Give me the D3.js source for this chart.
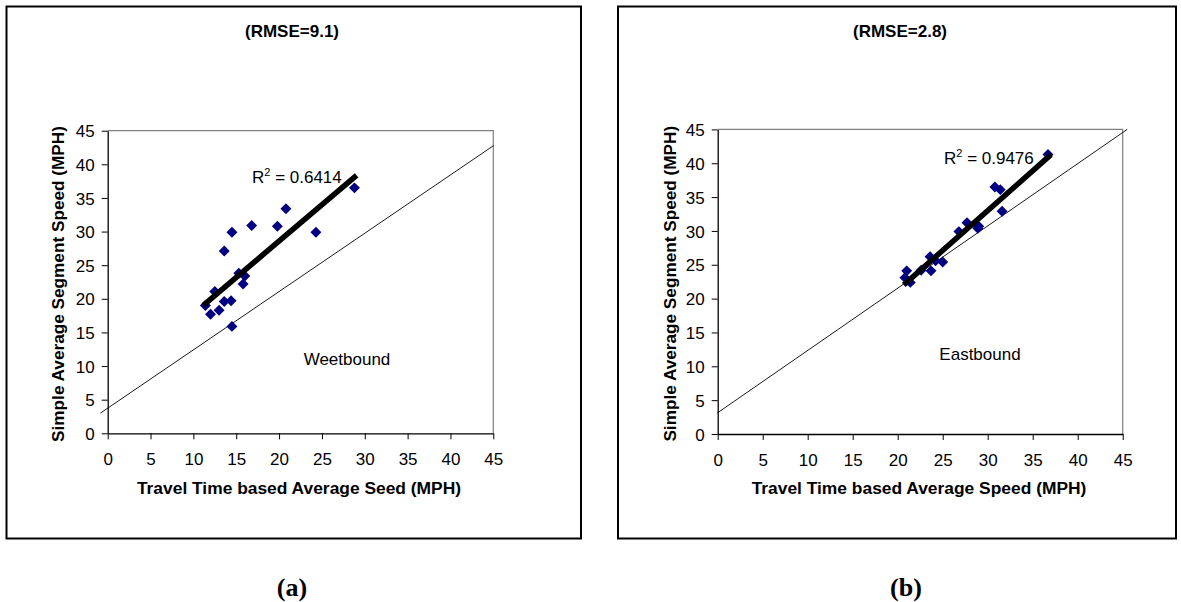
<!DOCTYPE html>
<html>
<head>
<meta charset="utf-8">
<script src="https://cdn.jsdelivr.net/npm/d3@7"></script>
<style>
  html, body { margin: 0; padding: 0; background: #fff; }
  svg { display: block; }
  text { font-family: Arial, "Liberation Sans", sans-serif; fill: #000; }
</style>
</head>
<body>
<svg id="chart" width="1181" height="602"></svg>
<script>
// ---------- data ----------
const axisTicks = [0, 5, 10, 15, 20, 25, 30, 35, 40, 45];

const titles = ["(RMSE=9.1)", "(RMSE=2.8)"];
const xTitles = ["Travel Time based Average Seed (MPH)", "Travel Time based Average Speed (MPH)"];
const yTitle = "Simple Average Segment Speed (MPH)";
const directionLabels = ["Weetbound", "Eastbound"];
const r2Values = ["0.6414", "0.9476"];
const panelLabels = ["(a)", "(b)"];

// Westbound (a)
const westX = [28.8, 20.8, 16.8, 19.8, 14.5, 24.3, 13.6, 15.3, 16.0, 15.8, 12.5, 11.4, 12.0, 13.0, 13.6, 14.4, 14.5];
const westY = [36.5, 33.4, 30.9, 30.8, 29.9, 29.9, 27.1, 23.8, 23.4, 22.2, 21.1, 19.0, 17.7, 18.3, 19.6, 19.7, 15.9];
const westTrendX = [11.4, 28.8];
const westTrendY = [19.3, 38.1];
const westRefX = [-0.85, 45.05];
const westRefY = [3.0, 42.8];

// Eastbound (b)
const eastX = [36.7, 30.8, 31.4, 31.6, 27.7, 26.8, 28.9, 29.0, 23.6, 25.0, 23.7, 22.6, 21.0, 20.8, 21.4, 24.2];
const eastY = [41.3, 36.5, 36.1, 32.9, 31.2, 29.9, 30.4, 30.7, 26.2, 25.4, 24.1, 24.2, 24.1, 23.1, 22.4, 25.6];
const eastTrendX = [20.9, 36.8];
const eastTrendY = [22.3, 41.0];
const eastRefX = [-0.05, 45.5];
const eastRefY = [3.1, 45.0];

// ---------- drawing ----------
const svg = d3.select("#chart");

const panels = [
  { box: [6.5, 6.5, 574.5, 532], plot: [107.7, 130.7, 493.3, 433.3], xs: westX, ys: westY,
    tx: westTrendX, ty: westTrendY, rx: westRefX, ry: westRefY,
    titleX: 292, xTitleX: 299, yTitleX: 64, dirX: 347, dirY: 365, r2X: 252, r2Y: 183, labelX: 292 },
  { box: [618, 6.5, 558, 532], plot: [717.7, 129.4, 1122.7, 434], xs: eastX, ys: eastY,
    tx: eastTrendX, ty: eastTrendY, rx: eastRefX, ry: eastRefY,
    titleX: 900, xTitleX: 919, yTitleX: 676, dirX: 980, dirY: 360, r2X: 944, r2Y: 164, labelX: 906 }
];

panels.forEach((p, i) => {
  const g = svg.append("g");
  // outer border
  g.append("rect").attr("x", p.box[0]).attr("y", p.box[1]).attr("width", p.box[2]).attr("height", p.box[3])
    .attr("fill", "none").attr("stroke", "#000").attr("stroke-width", 2);

  const [x0, y0, x1, y1] = p.plot;
  const x = d3.scaleLinear().domain([0, 45]).range([x0, x1]);
  const y = d3.scaleLinear().domain([0, 45]).range([y1, y0]);

  // plot area border (gray top & right)
  g.append("path").attr("d", `M${x0},${y0}H${x1}V${y1}`).attr("fill", "none")
    .attr("stroke", "#808080").attr("stroke-width", 1.2);

  // axes
  const xa = g.append("g").attr("transform", `translate(0,${y1})`)
    .call(d3.axisBottom(x).tickValues(axisTicks).tickSize(6).tickSizeOuter(0));
  xa.select(".domain").attr("stroke", "#000").attr("stroke-width", 1.3);
  xa.selectAll(".tick line").attr("stroke", "#000");
  xa.selectAll(".tick text").attr("y", 32).attr("dy", null)
    .style("font-size", "17px").style("font-family", "Arial, 'Liberation Sans', sans-serif").attr("fill", "#000");

  const ya = g.append("g").attr("transform", `translate(${x0},0)`)
    .call(d3.axisLeft(y).tickValues(axisTicks).tickSize(6).tickSizeOuter(0));
  ya.select(".domain").attr("stroke", "#000").attr("stroke-width", 1.3);
  ya.selectAll(".tick line").attr("stroke", "#000");
  ya.selectAll(".tick text").attr("x", -13).attr("dy", "0.36em")
    .style("font-size", "17px").style("font-family", "Arial, 'Liberation Sans', sans-serif").attr("fill", "#000");

  // reference line
  g.append("line").attr("x1", x(p.rx[0])).attr("y1", y(p.ry[0])).attr("x2", x(p.rx[1])).attr("y2", y(p.ry[1]))
    .attr("stroke", "#000").attr("stroke-width", 0.9);

  // points (diamonds)
  const diamond = d3.symbol().type(d3.symbolSquare).size(60);
  g.selectAll(".pt").data(p.xs.map((v, k) => [v, p.ys[k]])).enter().append("path")
    .attr("d", diamond)
    .attr("transform", d => `translate(${x(d[0])},${y(d[1])}) rotate(45)`)
    .attr("fill", "#000080");

  // trend line
  g.append("line").attr("x1", x(p.tx[0])).attr("y1", y(p.ty[0])).attr("x2", x(p.tx[1])).attr("y2", y(p.ty[1]))
    .attr("stroke", "#000").attr("stroke-width", 5.5).attr("stroke-linecap", "square");

  // R^2 label
  const r2 = g.append("text").attr("x", p.r2X).attr("y", p.r2Y).style("font-size", "17px");
  r2.append("tspan").text("R");
  r2.append("tspan").attr("dy", -7).style("font-size", "11px").text("2");
  r2.append("tspan").attr("dy", 7).text(" = " + r2Values[i]);

  // direction label
  g.append("text").attr("x", p.dirX).attr("y", p.dirY).attr("text-anchor", "middle")
    .style("font-size", "17px").text(directionLabels[i]);

  // title
  g.append("text").attr("x", p.titleX).attr("y", 37).attr("text-anchor", "middle")
    .style("font-size", "17px").style("font-weight", "bold").text(titles[i]);

  // x title
  g.append("text").attr("x", p.xTitleX).attr("y", 494).attr("text-anchor", "middle")
    .style("font-size", "17.4px").style("font-weight", "bold").text(xTitles[i]);

  // y title
  g.append("text").attr("transform", `translate(${p.yTitleX},${(y0 + y1) / 2 + 2}) rotate(-90)`)
    .attr("text-anchor", "middle").style("font-size", "17.2px").style("font-weight", "bold").text(yTitle);

  // panel label
  svg.append("text").attr("x", p.labelX).attr("y", 596).attr("text-anchor", "middle")
    .style("font-family", "'Liberation Serif', 'Times New Roman', serif")
    .style("font-size", "26px").style("font-weight", "bold").text(panelLabels[i]);
});
</script>
</body>
</html>
